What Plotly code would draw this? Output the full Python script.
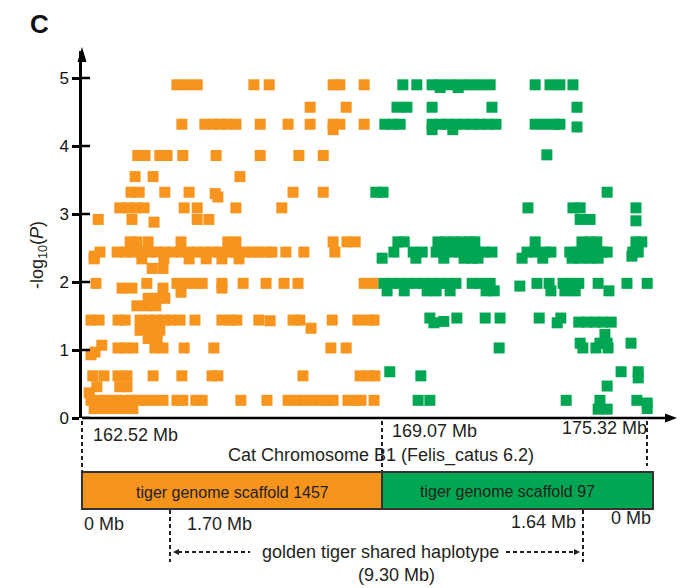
import plotly.graph_objects as go

# ---------------- data ----------------
# tiger genome scaffold 1457 markers (orange): position on cat chr B1 (Mb), -log10(P)
orange_mb = [
    164.63, 164.85, 165.08, 166.34, 166.68, 168.10, 168.25, 168.79,
    167.59, 168.39,
    164.74, 165.25, 165.43, 165.59, 165.76, 165.94, 166.48, 167.10, 167.59, 168.10, 168.25, 168.79, 168.10,
    163.76, 163.92, 164.25, 164.41, 164.76, 165.50, 166.48, 167.34, 167.88,
    163.70, 164.10, 166.03,
    163.61, 163.79, 164.36, 164.90, 165.48, 165.54, 167.21, 167.88,
    163.36, 163.54, 163.72, 163.90, 164.79, 165.08, 165.94, 166.96,
    162.88, 163.63, 164.12, 165.08, 165.34,
    163.59, 163.74, 163.99, 164.72, 165.76, 165.94, 168.10, 168.41, 168.59,
    162.79, 162.92, 163.30, 163.48, 163.65, 163.83, 164.01, 164.19, 164.36, 164.54, 164.72, 164.90, 165.08,
    165.25, 165.41, 165.59, 165.76, 165.94, 166.12, 166.30, 166.43, 166.61, 166.74, 167.05, 167.45, 168.14,
    162.79, 163.85, 164.34, 164.90, 165.28, 165.63, 166.01,
    164.08, 164.32,
    162.83, 163.96, 164.63, 164.83, 165.03, 165.19, 165.63, 166.10, 166.61, 167.01, 167.32, 168.79, 168.99,
    163.41, 163.63, 164.32, 165.63,
    164.72,
    163.99, 164.19, 164.36,
    163.74, 163.96, 164.16,
    162.72, 162.90, 163.32, 163.48, 163.81, 163.99, 164.16, 164.34, 164.52, 164.70, 165.03, 165.63, 165.81,
    165.96, 166.45, 166.70, 167.21, 167.36, 168.08, 168.65, 168.88, 169.01,
    167.61,
    163.81, 164.03, 164.25,
    163.99, 164.19,
    162.96, 162.81, 162.72, 163.32, 163.48, 163.65, 164.14, 164.32, 164.79, 165.45, 168.05, 168.39,
    162.76, 163.01, 163.32, 163.52, 164.10, 164.74, 165.41, 165.54, 167.43, 168.70, 168.88, 169.03,
    162.85, 163.36, 163.52,
    162.68,
    162.72, 162.90, 163.08, 163.25, 163.43, 163.61, 163.79, 163.96, 164.14, 164.32, 164.63, 164.76, 165.05,
    165.19, 166.05, 166.63, 167.10, 167.28, 167.45, 167.63, 167.81, 167.96, 168.10, 168.43, 168.59, 168.72, 169.01,
    162.79, 162.96, 163.14, 163.32, 163.50, 163.65,
]
orange_logp = (
    [4.90] * 8
    + [4.57] * 2
    + [4.32] * 12 + [4.24]
    + [3.86] * 9
    + [3.55] * 3
    + [3.32] * 4 + [3.30, 3.25] + [3.32] * 2
    + [3.09] * 8
    + [2.92, 2.92, 2.88, 2.92, 2.92]
    + [2.59] * 9
    + [2.38, 2.44] + [2.44] * 24
    + [2.34] * 7
    + [2.20] * 2
    + [1.98] * 13
    + [1.91] * 4
    + [1.85]
    + [1.76] * 3
    + [1.65] * 3
    + [1.44] * 15 + [1.43] + [1.44] * 6
    + [1.32]
    + [1.29] * 3
    + [1.17] * 2
    + [1.07, 0.97, 0.93] + [1.03] * 9
    + [0.62] * 12
    + [0.46] * 3
    + [0.37]
    + [0.26] * 27
    + [0.14] * 6
)

# tiger genome scaffold 97 markers (green)
green_mb = [
    169.65, 169.96, 170.30, 170.48, 170.70, 170.92, 171.14, 171.36, 171.59, 172.59, 172.92, 173.14, 173.43,
    170.48, 170.88,
    169.52, 169.74, 170.30, 171.63, 173.52,
    169.25, 169.43, 169.59, 170.30, 170.48, 170.65, 170.83, 171.01, 171.19, 171.36, 171.54, 171.72,
    172.59, 172.81, 173.03, 173.14, 173.52, 170.30, 170.76,
    172.85,
    169.05, 169.21, 174.19,
    172.43, 173.43, 173.59, 174.83,
    173.59, 173.81, 174.83,
    169.54, 169.68, 170.43, 170.61, 170.79, 170.96, 171.14, 171.25, 172.59, 173.63, 173.81, 173.96, 174.83, 174.96,
    169.45, 169.88, 170.08, 170.39, 170.56, 170.74, 170.92, 171.10, 171.28, 171.45, 171.63, 172.41,
    172.59, 172.79, 172.94, 173.36, 173.54, 173.72, 173.90, 174.08, 174.19, 174.76, 174.88,
    169.19, 169.94, 170.56, 171.01, 171.19, 171.32, 172.30, 172.76, 173.41, 173.59, 173.81, 173.99, 174.74,
    169.23, 169.41, 169.59, 169.76, 169.94, 170.12, 170.30, 170.48, 170.65, 170.83, 171.19, 171.36, 171.59,
    172.63, 172.90, 173.21, 173.39, 173.56, 173.99, 174.63, 175.08, 172.25,
    169.30, 169.68, 170.19, 170.39, 170.70, 171.50, 171.68, 172.94, 173.25, 173.48, 174.23,
    170.25, 170.85, 171.48, 171.81, 172.68, 173.16,
    170.56, 170.34, 173.08, 173.56, 173.74, 173.92, 174.10, 174.28,
    174.14,
    173.59, 174.03, 174.19, 174.72,
    171.79, 173.65, 173.94, 174.21,
    169.36, 174.50, 174.88, 170.05, 174.88,
    174.19,
    169.99, 170.25, 173.28, 174.03, 174.85, 175.08,
    173.99, 174.19, 175.08,
]
green_logp = (
    [4.90] * 13
    + [4.86] * 2
    + [4.57] * 5
    + [4.32] * 16 + [4.28] + [4.24] * 2
    + [3.87]
    + [3.32] * 3
    + [3.09] * 4
    + [2.92, 2.92, 2.90]
    + [2.59] * 14
    + [2.44] * 23
    + [2.35] * 12 + [2.38]
    + [1.98] * 21 + [1.94]
    + [1.87] * 11
    + [1.47] * 6
    + [1.42, 1.40, 1.40, 1.41, 1.41, 1.41, 1.41, 1.41]
    + [1.23]
    + [1.10] * 4
    + [1.03] * 4
    + [0.68] * 3 + [0.62, 0.59]
    + [0.47]
    + [0.26] * 5 + [0.22]
    + [0.13] * 2 + [0.14]
)

y_ticks = [0, 1, 2, 3, 4, 5]

axis_labels = ["162.52 Mb", "169.07 Mb", "175.32 Mb"]
scaffold_names = ["tiger genome scaffold 1457", "tiger genome scaffold 97"]
scaffold_ends = ["0 Mb", "1.70 Mb", "1.64 Mb", "0 Mb"]

ORANGE = "#F7941D"
GREEN = "#00A651"
INK = "#231F20"
FONT = "Liberation Sans, Arial, sans-serif"

# ---------------- figure ----------------
W, H = 687, 588
L, R, T, B = 82, 5, 51, 170
PW, PH = W - L - R, H - T - B
PX_PER_MB = 45.0
X0 = 162.52
PX_PER_UNIT = 68.0


def px(x):
    return (x - L) / PW


def py(y):
    return (H - B - y) / PH


fig = go.Figure()
fig.add_trace(go.Scatter(
    x=orange_mb, y=orange_logp, mode="markers", cliponaxis=False,
    marker=dict(symbol="square", size=11, color=ORANGE, line=dict(width=0)),
    showlegend=False, hoverinfo="x+y"))
fig.add_trace(go.Scatter(
    x=green_mb, y=green_logp, mode="markers", cliponaxis=False,
    marker=dict(symbol="square", size=11, color=GREEN, line=dict(width=0)),
    showlegend=False, hoverinfo="x+y"))

shapes = []
line_k = dict(color="black", width=2.5)
dash_k = dict(color=INK, width=2, dash="4px,3px")

# x axis line + arrow
shapes.append(dict(type="line", xref="paper", yref="paper",
                   x0=px(82), x1=px(668), y0=py(418), y1=py(418), line=line_k))
shapes.append(dict(type="path", xref="paper", yref="paper",
                   path=f"M {px(677)} {py(418)} L {px(665)} {py(413.5)} L {px(665)} {py(422.5)} Z",
                   fillcolor="black", line=dict(width=0)))
# y axis arrow head
shapes.append(dict(type="path", xref="paper", yref="paper",
                   path=f"M {px(82)} {py(47)} L {px(77.5)} {py(62)} L {px(86.5)} {py(62)} Z",
                   fillcolor="black", line=dict(width=0)))
# inner halves of y ticks
for t in y_ticks:
    shapes.append(dict(type="line", xref="paper", yref="y",
                       x0=px(82), x1=px(90), y0=t, y1=t, line=line_k))

# dashed guide lines
for (xx, ya, yb) in [(82, 421, 472), (382, 421, 472), (647, 421, 466),
                     (170, 510, 562), (583, 510, 562)]:
    shapes.append(dict(type="line", xref="paper", yref="paper",
                       x0=px(xx), x1=px(xx), y0=py(ya), y1=py(yb), line=dash_k))

# scaffold boxes
shapes.append(dict(type="rect", xref="paper", yref="paper",
                   x0=px(82), x1=px(382), y0=py(472), y1=py(509),
                   fillcolor=ORANGE, line=dict(color="#333333", width=2)))
shapes.append(dict(type="rect", xref="paper", yref="paper",
                   x0=px(382), x1=px(653), y0=py(472), y1=py(509),
                   fillcolor=GREEN, line=dict(color="#333333", width=2)))

# shared-haplotype dashed arrows
shapes.append(dict(type="line", xref="paper", yref="paper",
                   x0=px(178), x1=px(250), y0=py(552), y1=py(552), line=dash_k))
shapes.append(dict(type="line", xref="paper", yref="paper",
                   x0=px(506), x1=px(575), y0=py(552), y1=py(552), line=dash_k))
shapes.append(dict(type="path", xref="paper", yref="paper",
                   path=f"M {px(173)} {py(552)} L {px(179)} {py(549)} L {px(179)} {py(555)} Z",
                   fillcolor=INK, line=dict(width=0)))
shapes.append(dict(type="path", xref="paper", yref="paper",
                   path=f"M {px(580)} {py(552)} L {px(574)} {py(549)} L {px(574)} {py(555)} Z",
                   fillcolor=INK, line=dict(width=0)))

ann = []


def text(s, x, y, size=18, xa="center", ya="middle", **kw):
    ann.append(dict(text=s, xref="paper", yref="paper", x=px(x), y=py(y),
                    xanchor=xa, yanchor=ya, showarrow=False,
                    font=dict(family=FONT, size=size, color=kw.pop("color", INK)), **kw))


text("<b>C</b>", 39, 24, size=26, color="#111111")
text("-log<sub>10</sub>(<i>P</i>)", 38, 255, size=18, textangle=-90)
text(axis_labels[0], 91, 435, xa="left")
text(axis_labels[1], 390, 431, xa="left")
text(axis_labels[2], 649, 428, xa="right")
text("Cat Chromosome B1 (Felis_catus 6.2)", 381, 455)
text(scaffold_names[0], 232, 492, size=16)
text(scaffold_names[1], 507, 491, size=16)
text(scaffold_ends[0], 82, 524, xa="left")
text(scaffold_ends[1], 185, 524, xa="left")
text(scaffold_ends[2], 578, 522, xa="right")
text(scaffold_ends[3], 653, 518, xa="right")
text("golden tiger shared haplotype", 380, 552)
text("(9.30 Mb)", 396, 575)

fig.update_layout(
    width=W, height=H,
    margin=dict(l=L, r=R, t=T, b=B, pad=0),
    paper_bgcolor="white", plot_bgcolor="white",
    font=dict(family=FONT, color=INK),
    xaxis=dict(range=[X0, X0 + PW / PX_PER_MB], visible=False, showgrid=False, zeroline=False),
    yaxis=dict(range=[0, PH / PX_PER_UNIT], tickvals=y_ticks, ticks="outside", ticklen=7,
               tickwidth=2.5, tickcolor="black", showline=True, linewidth=2.5, linecolor="black",
               showgrid=False, zeroline=False,
               tickfont=dict(family=FONT, size=17, color="#111111")),
    shapes=shapes, annotations=ann,
)

fig.write_html("out.html", config={"displayModeBar": False},
               post_script="document.body.style.margin='0px';")
